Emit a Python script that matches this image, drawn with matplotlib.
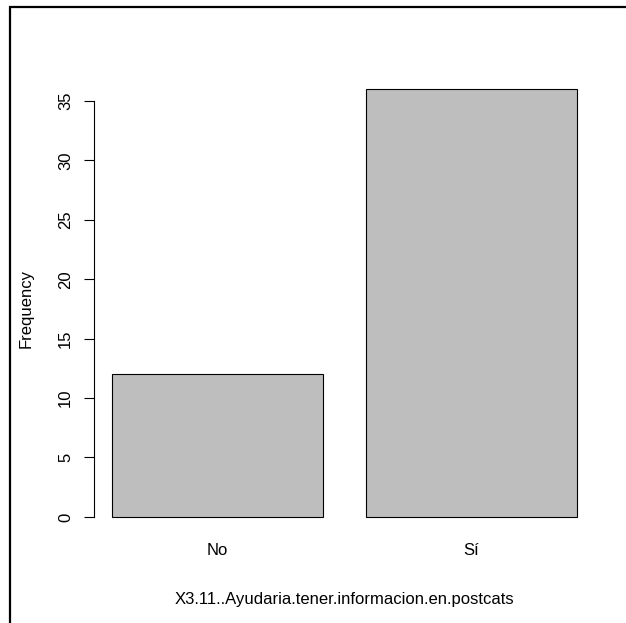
import matplotlib
matplotlib.use("Agg")
import matplotlib.pyplot as plt
from matplotlib.lines import Line2D

categories = ["No", "Sí"]
counts = [12, 36]
yticks = [0, 5, 10, 15, 20, 25, 30, 35]
xlabel = "X3.11..Ayudaria.tener.informacion.en.postcats"
ylabel = "Frequency"

plt.rcParams['font.family'] = ['Liberation Sans', 'DejaVu Sans']
FS = 12
W, H = 626, 623
fig = plt.figure(figsize=(W / 100, H / 100), dpi=100)
fig.patch.set_facecolor('white')

# axes region in pixels
left_px, right_px, top_px, bot_px = 93.5, 595.6, 72, 534
ax = fig.add_axes([left_px / W, 1 - bot_px / H, (right_px - left_px) / W, (bot_px - top_px) / H])

centers = [0.7 + 1.2 * i for i in range(len(categories))]
ax.bar(centers, counts, width=1.0, color='#BEBEBE', edgecolor='black', linewidth=0.8)
ax.set_xlim(0.112, 2.488)
ax.set_ylim(-1.44, 37.44)

for s in ['top', 'right', 'bottom']:
    ax.spines[s].set_visible(False)
ax.spines['left'].set_bounds(0, 35)
ax.spines['left'].set_linewidth(0.8)

ax.set_yticks(yticks)
ax.set_yticklabels([str(t) for t in yticks], rotation=90, va='center', fontsize=FS)
ax.tick_params(axis='y', length=7.2, width=0.8, pad=7.5)
ax.set_xticks(centers)
ax.set_xticklabels(categories, fontsize=FS)
ax.tick_params(axis='x', length=0, pad=6.5)

fig.text(26 / W, 1 - 309 / H, ylabel, rotation=90, ha='center', va='center', fontsize=FS)
fig.text((left_px + right_px) / 2 / W, 1 - 604 / H, xlabel, ha='center', va='baseline', fontsize=FS)

# outer frame (cropped R device border)
fx, fy = 9.5 / W, 1 - 7 / H
fig.add_artist(Line2D([fx, fx, 1.01], [-0.01, fy, fy], transform=fig.transFigure,
                      color='black', linewidth=1.6, solid_joinstyle='miter'))

fig.savefig('out.png', dpi=100)
